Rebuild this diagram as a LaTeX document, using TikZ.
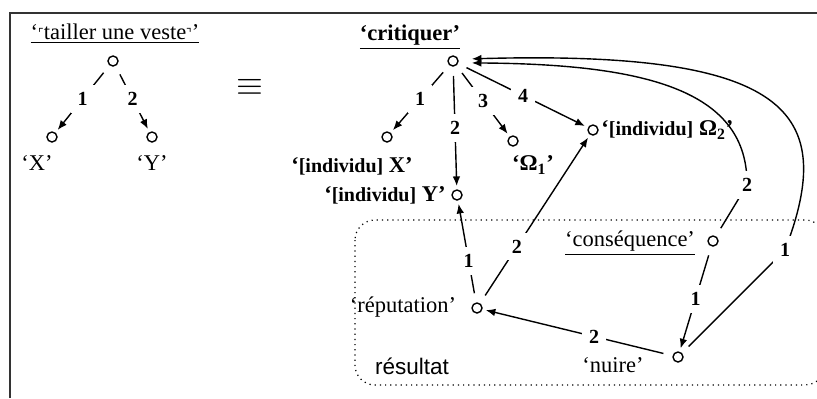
\documentclass[tikz,border=0pt]{standalone}
\usepackage{amssymb}
\usepackage{fontspec}
\setmainfont{Liberation Serif}
\setsansfont{Liberation Sans}
\newfontfamily\cornerfont{DejaVu Sans}
\usetikzlibrary{arrows.meta,positioning}
\tikzset{
  mydot/.style = {circle, draw, line width=0.7pt, minimum size=5pt, inner sep=0pt, outer sep=2pt},
  mylab/.style = {font=\bfseries, fill=white, inner sep=3.5pt},
  myarrow/.style = {-{Latex[length=4.8pt,width=3.8pt]}, line width=0.7pt, shorten <=3pt},
  mytext/.style = {inner sep=1pt},
}
\newcommand{\indiv}{{\fontsize{10}{12}\selectfont [individu]}}

\begin{document}
\begin{tikzpicture}[x=0.5pt, y=-0.5pt, font=\fontsize{11.25}{13}\selectfont]
\useasboundingbox (0,0) rectangle (817,398);
\draw[line width=0.9pt, black!80] (10,398) -- (10,13) -- (817,13);

% left tree
\node (ltitle) at (115,34) {\underline{‘\raisebox{1pt}{\cornerfont\fontsize{6}{6}\selectfont ⌜}tailler une veste\raisebox{1pt}{\cornerfont\fontsize{6}{6}\selectfont ⌝}’}};
\node (lroot) [mydot] at (113,61) {};
\node (lx) [mydot] at (52,137) {};
\node (ly) [mydot] at (152,137) {};
\node (lxtxt) at (37,163) {‘X’};
\node (lytxt) at (152,163) {‘Y’};
\draw[myarrow] (lroot) -- node[mylab]{1} (lx);
\draw[myarrow] (lroot) -- node[mylab]{2} (ly);

\node (eq) at (250,87) {\fontsize{19}{19}\selectfont$\equiv$};

% right tree
\node (ctitle) at (410,37) {\bfseries\underline{‘critiquer’}};
\node (croot) [mydot] at (453,61) {};
\node (cx) [mydot] at (387,137) {};
\node (cy) [mydot] at (457,195) {};
\node (co1) [mydot] at (513,141) {};
\node (co2) [mydot] at (593,130) {};
\node (cxtxt) at (352,166) {\bfseries ‘\indiv{} X’};
\node (cytxt) [mytext, left=0pt of cy] {\bfseries ‘\indiv{} Y’};
\node (co1txt) at (533,165) {\bfseries ‘Ω\textsubscript{1}’};
\node (co2txt) [mytext, right=-1.5pt of co2] {\bfseries ‘\indiv{} Ω\textsubscript{2}’};
\foreach \v/\n in {cx/1,cy/2,co1/3,co2/4}{
  \draw[myarrow] (croot) -- node[mylab]{\n} (\v);
}

% résultat
\draw[dotted, line width=0.6pt, rounded corners=10pt] (355,220) rectangle (825,385);
\node (restxt) at (412,366) {\sffamily résultat};
\node (cons) [mydot] at (713,241) {};
\node (rep) [mydot] at (477,308) {};
\node (nuire) [mydot] at (678,357) {};
\node (constxt) at (630,243) {\underline{‘conséquence’}};
\node (reptxt) at (403,307) {‘réputation’};
\node (nuiretxt) at (613,365) {‘nuire’};

\draw[myarrow] (rep) -- node[mylab, pos=0.4]{1} (cy);
\draw[myarrow] (rep) -- node[mylab, pos=0.33]{2} (co2);
\draw[myarrow] (nuire) -- node[mylab, pos=0.41]{2} (rep);
\draw[myarrow] (cons) -- node[mylab]{1} (nuire);

\coordinate (kc) at (747,185);
\coordinate (ko) at (785,250);
\draw[myarrow, shorten >=5pt] (cons) -- (kc) node[mylab]{2}
  .. controls (748,92) and (650,64) .. (croot.-12);
\draw[myarrow, shorten >=5pt] (nuire) -- (ko) node[mylab]{1}
  .. controls (838,112) and (790,50) .. (croot.12);
\end{tikzpicture}
\end{document}
